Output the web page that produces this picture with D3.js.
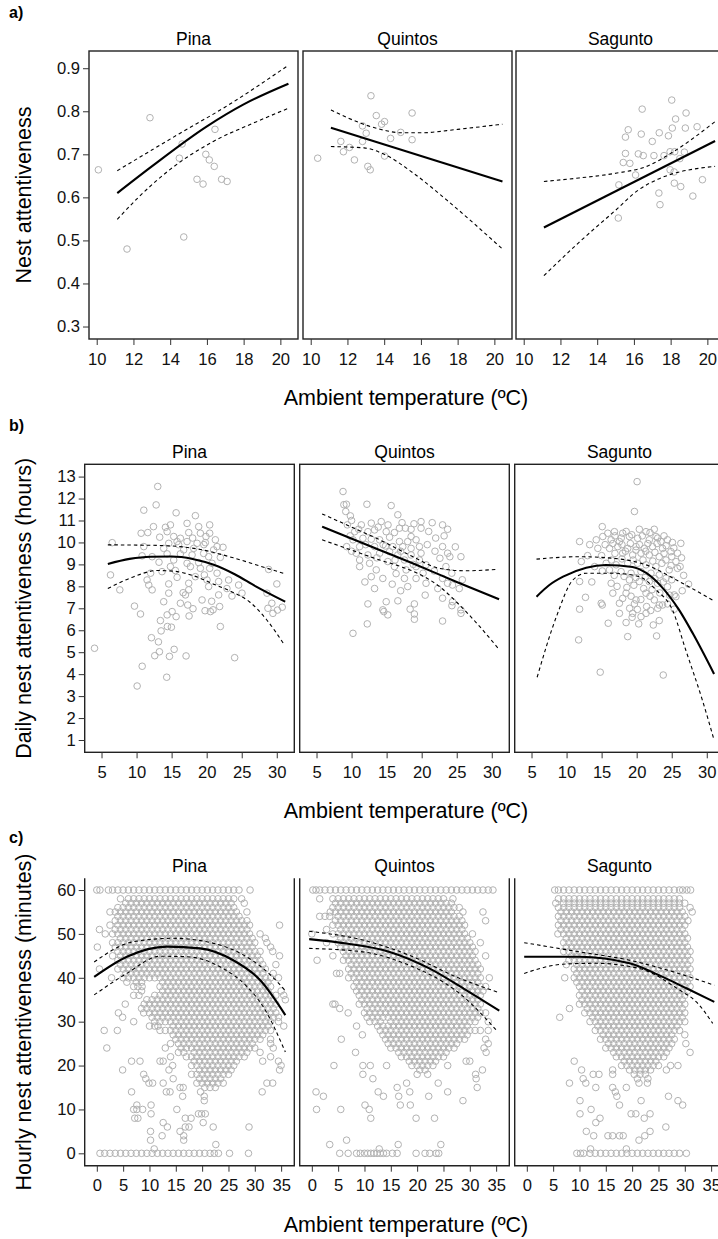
<!DOCTYPE html>
<html>
<head>
<meta charset="utf-8">
<script src="https://cdn.jsdelivr.net/npm/d3@7"></script>
<style>
  body { margin: 0; background: #fff; }
  svg { font-family: "Liberation Sans", Arial, Helvetica, sans-serif; }
</style>
</head>
<body>
<svg id="chart" width="718" height="1239"></svg>
<script>
const sites = ["Pina", "Quintos", "Sagunto"];

// ---- panel a: nest attentiveness vs ambient temperature, [temp, value]
const aPina = [[10.09,0.664],[12.9,0.785],[14.65,0.724],[14.5,0.691],[15.94,0.70],[16.13,0.687],[16.4,0.672],
  [16.44,0.758],[15.46,0.642],[15.79,0.631],[16.8,0.642],[17.1,0.637],[11.65,0.48],[14.74,0.508]];
const aQuintos = [[10.38,0.691],[13.28,0.836],[13.57,0.79],[14.02,0.776],[13.86,0.77],[12.82,0.766],[13.02,0.749],
  [12.82,0.73],[11.64,0.73],[12.11,0.716],[11.78,0.706],[12.38,0.687],[13.11,0.672],[13.24,0.664],[14.02,0.696],
  [14.35,0.737],[14.9,0.751],[15.52,0.796],[15.52,0.734]];
const aSagunto = [[18.06,0.826],[16.45,0.805],[18.84,0.796],[18.27,0.782],[15.69,0.757],[15.54,0.74],[16.4,0.747],
  [17.38,0.75],[18.09,0.761],[18.8,0.761],[19.44,0.764],[17.88,0.743],[17.0,0.73],[15.54,0.702],[16.24,0.701],
  [16.51,0.697],[17.09,0.697],[17.64,0.697],[17.97,0.706],[18.22,0.706],[18.75,0.705],[18.5,0.69],[15.42,0.681],
  [15.78,0.679],[16.09,0.652],[17.97,0.664],[18.19,0.659],[15.18,0.629],[18.2,0.633],[18.55,0.625],[19.73,0.641],
  [17.36,0.61],[19.21,0.603],[17.42,0.583],[15.15,0.552]];
const aPinaFit = [[11.12,0.61],[13,0.672],[16,0.765],[18,0.816],[20.44,0.864]];
const aPinaUpper = [[11.12,0.662],[13,0.71],[14.5,0.748],[17,0.81],[20.44,0.907]];
const aPinaLower = [[11.12,0.549],[12.27,0.6],[14,0.665],[16.35,0.73],[18.5,0.772],[20.44,0.807]];
const aQuintosFit = [[11.1,0.762],[20.44,0.637]];
const aQuintosUpper = [[11.1,0.803],[12,0.785],[13,0.768],[14,0.756],[14.9,0.75],[16,0.75],[18,0.758],[20.44,0.77]];
const aQuintosLower = [[11.1,0.718],[12.9,0.715],[14,0.70],[15.6,0.656],[17.4,0.594],[20.44,0.48]];
const aSaguntoFit = [[11.1,0.53],[20.42,0.731]];
const aSaguntoUpper = [[11.1,0.637],[13,0.645],[15,0.656],[16.7,0.672],[18.15,0.706],[20.42,0.776]];
const aSaguntoLower = [[11.1,0.418],[13,0.495],[15,0.57],[16.24,0.617],[17.3,0.642],[18.2,0.656],[19.3,0.666],[20.42,0.672]];

// ---- panel b: daily nest attentiveness (hours), [temp, hours]
const bPina = [[13.02,12.55],[12.79,11.71],[11.03,11.47],[15.64,11.35],[18.39,11.22],[12.41,10.72],[14.12,10.69],
  [14.83,10.8],[17.2,10.87],[18.86,10.72],[20.43,10.8],[10.65,10.42],[11.6,10.45],[13.3,10.24],[14.36,10.49],
  [15.3,10.27],[16.25,10.19],[17.44,10.45],[19.1,10.42],[19.9,10.27],[20.43,10.42],[21.24,10.12],[6.52,9.99],
  [14.59,9.96],[15.78,10.04],[17.2,10.04],[18.63,9.96],[19.81,9.99],[21.48,9.81],[22.33,9.78],[11.03,9.81],
  [13.87,9.73],[16.72,9.66],[18.15,9.73],[20.99,9.66],[10.79,9.39],[12.22,9.35],[14.36,9.48],[16.25,9.48],
  [17.92,9.43],[19.57,9.5],[20.28,9.35],[21.95,9.32],[15.3,9.2],[17.2,9.05],[18.86,9.08],[20.76,9.05],[14.83,8.9],
  [17.68,8.9],[19.1,8.82],[20.43,8.82],[13.63,8.67],[15.54,8.72],[19.67,8.52],[21.48,8.6],[6.28,8.52],[11.5,8.29],
  [11.74,8.06],[12.22,7.84],[14.59,8.11],[15.78,8.41],[17.44,8.14],[18.39,8.44],[20.05,8.29],[21.71,8.22],
  [23.13,8.29],[24.56,8.06],[7.61,7.84],[17.44,7.84],[20.28,7.99],[22.89,7.9],[14.59,7.69],[16.64,7.71],
  [16.97,7.61],[21.71,7.61],[23.61,7.56],[25.04,7.69],[19.34,7.38],[20.71,7.32],[30.01,8.11],[28.84,8.77],
  [28.6,7.69],[29.3,7.23],[4.0,5.18],[9.7,7.1],[10.56,6.74],[13.4,6.44],[14.36,6.7],[15.07,6.85],[15.64,6.62],
  [16.25,7.23],[17.3,7.15],[17.49,6.65],[18.05,6.98],[19.77,6.89],[20.53,6.85],[20.91,6.93],[21.85,7.08],
  [21.95,6.17],[13.87,7.3],[12.12,5.66],[13.12,5.47],[13.5,5.97],[14.4,6.17],[14.97,6.14],[13.26,5.02],
  [12.59,4.84],[14.69,4.81],[15.36,5.13],[17.06,4.83],[23.99,4.75],[10.8,4.36],[14.3,3.86],[10.08,3.46],
  [28.74,7.0],[29.45,6.77],[30.1,6.92],[30.78,7.05],[16.0,9.9],[18.0,10.2],[13.2,9.1],[12.0,8.6],[19.6,9.9]];
const bQuintos = [[8.78,12.32],[9.26,11.74],[8.9,11.72],[12.19,11.74],[15.65,11.68],[9.17,11.41],[9.83,11.21],
  [16.6,11.26],[9.4,10.8],[11.39,10.8],[12.81,10.88],[14.23,10.95],[16.83,10.65],[17.68,10.65],[18.49,10.6],
  [19.91,10.95],[19.91,10.65],[22.98,10.8],[23.7,10.6],[10.44,10.49],[12.33,10.49],[13.28,10.57],[14.94,10.49],
  [16.11,10.45],[18.49,10.27],[10.2,10.12],[11.62,10.19],[12.81,10.15],[14.0,10.12],[15.42,10.24],[16.83,10.04],
  [18.01,10.04],[19.2,10.12],[9.3,9.81],[11.15,9.81],[13.28,9.81],[14.84,9.84],[15.88,9.81],[17.3,9.81],
  [18.49,9.73],[19.68,9.81],[22.98,9.81],[23.7,9.51],[25.6,9.35],[10.68,9.51],[12.33,9.43],[14.0,9.51],
  [15.42,9.58],[16.6,9.43],[18.49,9.43],[19.91,9.51],[22.6,9.28],[24.02,9.35],[11.15,9.2],[12.57,9.05],
  [15.17,9.13],[17.54,9.2],[19.68,9.2],[13.52,8.75],[16.11,8.9],[17.78,8.75],[19.2,8.9],[20.62,8.98],[23.46,8.9],
  [11.15,8.9],[12.81,8.44],[14.46,8.36],[16.35,8.58],[17.54,8.36],[18.01,7.99],[19.2,8.36],[20.62,8.14],
  [22.98,8.36],[23.7,8.14],[24.4,8.06],[25.36,7.9],[13.28,7.9],[14.94,7.3],[16.6,7.34],[18.96,7.2],[22.98,7.46],
  [24.4,7.3],[25.6,6.93],[12.33,7.2],[14.46,6.93],[14.6,6.85],[15.17,6.7],[18.35,6.96],[18.96,6.74],[18.96,6.5],
  [12.24,6.29],[22.98,6.42],[24.31,7.12],[25.6,6.77],[10.2,5.86],
  [10.0,11.0],[11.0,10.6],[13.8,10.7],[15.2,10.8],[17.2,10.9],[18.9,10.85],[21.0,10.5],[22.0,10.2],[20.8,9.9],
  [21.9,9.6],[17.0,9.6],[13.6,9.3],[10.0,9.6],[9.8,10.3],[12.0,9.9],[14.5,9.9],[16.2,9.2],[18.8,9.0],[20.2,8.6],
  [21.8,8.7],[24.3,8.6],[22.3,7.9],[25.8,8.3],[20.5,7.6],[17.0,7.8],[15.8,8.1],[11.9,8.2],[21.5,10.9],[23.2,10.3],
  [24.8,9.8]];
const bSagunto = [[20.06,12.77],[19.68,11.41],[15.09,10.72],[11.86,10.04],[14.23,10.12],[15.88,10.42],[16.83,10.49],
  [18.01,10.42],[20.38,10.6],[21.33,10.49],[22.51,10.6],[23.46,10.04],[24.4,10.12],[26.3,9.96],[15.17,10.27],
  [16.36,10.12],[17.54,10.04],[18.96,10.27],[20.14,10.19],[21.8,10.12],[22.76,10.27],[14.46,9.73],[16.12,9.73],
  [17.3,9.81],[18.72,9.73],[19.91,9.81],[21.09,9.73],[22.27,9.81],[23.69,9.73],[24.89,9.58],[25.83,9.51],
  [18.01,9.51],[19.43,9.43],[20.62,9.51],[21.8,9.43],[23.22,9.35],[24.18,9.2],[25.6,9.13],[12.1,9.13],
  [15.65,9.05],[17.07,8.98],[18.72,9.05],[20.14,9.05],[21.33,8.98],[22.75,8.9],[24.64,8.75],[25.83,8.82],
  [16.12,8.75],[17.78,8.67],[19.2,8.6],[20.62,8.67],[22.04,8.6],[23.22,8.52],[24.18,8.37],[16.36,8.14],
  [18.96,8.29],[20.38,8.22],[21.8,8.22],[22.99,8.14],[24.4,7.98],[25.36,7.61],[11.86,8.22],[16.6,7.69],
  [14.94,7.23],[17.54,7.23],[18.49,7.69],[19.91,7.38],[21.33,7.69],[22.51,7.38],[23.69,7.15],[25.6,7.53],
  [11.86,6.96],[17.54,6.77],[19.43,6.77],[20.62,6.62],[21.33,6.77],[15.09,7.15],[15.94,6.32],[18.49,6.35],
  [19.35,6.59],[20.29,6.29],[21.42,7.08],[19.68,7.2],[22.37,6.24],[23.22,6.44],[23.22,7.15],[18.72,5.71],
  [22.84,5.74],[25.36,6.96],[11.72,5.56],[14.8,4.09],[23.79,3.96],
  [16.9,10.3],[17.8,10.2],[18.5,10.5],[19.3,10.35],[20.8,10.3],[21.9,10.45],[23.0,10.2],[23.9,10.3],[25.1,10.0],
  [15.5,9.9],[16.6,9.95],[17.9,9.9],[19.1,9.95],[20.4,9.9],[21.6,9.95],[22.9,9.95],[24.2,9.85],[25.3,9.75],
  [15.0,9.4],[16.9,9.5],[18.4,9.6],[19.9,9.65],[21.3,9.6],[22.6,9.55],[23.9,9.5],[25.0,9.35],[26.4,9.3],
  [16.4,9.2],[17.9,9.25],[19.5,9.2],[20.9,9.2],[22.3,9.15],[23.6,9.05],[24.9,8.95],[26.2,8.9],
  [15.1,8.7],[16.8,8.5],[18.2,8.45],[19.9,8.4],[21.2,8.4],[22.6,8.35],[23.8,8.2],[25.0,8.3],[26.7,8.5],[27.4,8.1],
  [17.2,8.0],[18.6,7.95],[19.6,8.05],[21.0,7.9],[22.2,7.85],[23.3,7.7],[24.7,7.6],[26.5,7.8],
  [18.0,7.45],[19.2,7.55],[20.6,7.4],[21.9,7.55],[23.0,7.0],[24.4,7.2],[19.0,7.0],[20.1,6.95],[22.0,6.9],
  [13.3,9.9],[13.0,9.4],[14.0,8.9],[13.6,8.2],[12.7,7.5]];
const bPinaFit = [[5.9,9.02],[9,9.25],[12,9.35],[15,9.36],[18,9.25],[21,8.98],[24,8.55],[27,8.0],[31.2,7.3]];
const bPinaUpper = [[5.9,9.89],[10,9.88],[14.4,9.85],[19.1,9.68],[23.8,9.3],[27.65,8.92],[31,8.59]];
const bPinaLower = [[5.9,7.9],[9.6,8.44],[12.9,8.72],[15.3,8.69],[18.15,8.48],[21,8.1],[23.8,7.72],[26.1,7.3],[28.5,6.5],[31.03,5.36]];
const bQuintosFit = [[5.8,10.72],[14,9.66],[18.7,9.05],[25,8.2],[31.04,7.41]];
const bQuintosUpper = [[5.8,11.3],[10,10.7],[14,10.12],[18.7,9.36],[22.5,8.82],[26.3,8.71],[30.6,8.77]];
const bQuintosLower = [[5.8,10.12],[10,9.65],[14,9.2],[17,8.9],[19.7,8.55],[22.5,8.0],[25.4,7.15],[28.3,6.16],[31.04,5.13]];
const bSaguntoFit = [[5.71,7.53],[7.5,8.05],[9.5,8.44],[12.8,8.85],[15.6,8.97],[19.4,8.88],[21.3,8.62],[23.5,8.0],[26,6.95],[28,5.86],[31.04,4.01]];
const bSaguntoUpper = [[5.71,9.24],[11.86,9.35],[16.6,9.28],[21.33,8.98],[26.07,8.22],[30.8,7.38]];
const bSaguntoLower = [[5.8,3.86],[8.55,6.62],[10.9,8.29],[12.81,8.6],[16.6,8.6],[20.38,8.44],[22.75,7.84],[25.1,6.93],[27,5.1],[29.37,2.82],[31.04,1.0]];

// ---- panel c: hourly nest attentiveness (minutes); rows of [minutes, "temperatures"]
const cPinaRows = [
  [60,"0 0.6 2.2 3 4 5 6 7 8 9 10 11 12 13 14 15 16 17 18 19 20 21 22 23 24 25 26 27 29.1"],
  [58,"4.5 6 7 8 9 10 11 12 13 14 15 16 17 18 19 20 21 22 23 24 25 26 27.5"],
  [57,"5.5 6.5 7.5 8.5 9.5 10.5 11.5 12.5 13.5 14.5 15.5 16.5 17.5 18.5 19.5 20.5 21.5 22.5 23.5 24.5 25.5 28"],
  [56,"4 5 6 7 8 9 10 11 12 13 14 15 16 17 18 19 20 21 22 23 24 25 26"],
  [55,"2.5 3.5 4.5 5.5 6.5 7.5 8.5 9.5 10.5 11.5 12.5 13.5 14.5 15.5 16.5 17.5 18.5 19.5 20.5 21.5 22.5 23.5 24.5 25.5 26.5 28.5"],
  [54,"4 5 6 7 8 9 10 11 12 13 14 15 16 17 18 19 20 21 22 23 24 25 26 27"],
  [53,"3.5 4.5 5.5 6.5 7.5 8.5 9.5 10.5 11.5 12.5 13.5 14.5 15.5 16.5 17.5 18.5 19.5 20.5 21.5 22.5 23.5 24.5 25.5 26.5 27.5 28.5"],
  [52,"2.5 4 5 6 7 8 9 10 11 12 13 14 15 16 17 18 19 20 21 22 23 24 25 26 27 28 29 34.7"],
  [51,"0.5 3.5 4.5 5.5 6.5 7.5 8.5 9.5 10.5 11.5 12.5 13.5 14.5 15.5 16.5 17.5 18.5 19.5 20.5 21.5 22.5 23.5 24.5 25.5 26.5 27.5 28.5"],
  [50,"1.6 3 4 5 6 7 8 9 10 11 12 13 14 15 16 17 18 19 20 21 22 23 24 25 26 27 28 29 31"],
  [49,"4.5 5.5 6.5 7.5 8.5 9.5 10.5 11.5 12.5 13.5 14.5 15.5 16.5 17.5 18.5 19.5 20.5 21.5 22.5 23.5 24.5 25.5 26.5 27.5 28.5 29.5 32"],
  [48,"3 4 5 6 7 8 9 10 11 12 13 14 15 16 17 18 19 20 21 22 23 24 25 26 27 28 29 30 32.3"],
  [47,"0.1 3.5 4.5 5.5 6.5 7.5 8.5 9.5 10.5 11.5 12.5 13.5 14.5 15.5 16.5 17.5 18.5 19.5 20.5 21.5 22.5 23.5 24.5 25.5 26.5 27.5 28.5 29.5 33"],
  [46,"4 5 6 7 8 9 10 11 12 13 14 15 16 17 18 19 20 21 22 23 24 25 26 27 28 29 30 31 33.4"],
  [45,"3 4.5 5.5 6.5 7.5 8.5 9.5 10.5 11.5 12.5 13.5 14.5 15.5 16.5 17.5 18.5 19.5 20.5 21.5 22.5 23.5 24.5 25.5 26.5 27.5 28.5 29.5 30.5 34.7"],
  [44,"4 5 6 7 8 9 10 11 12 13 14 15 16 17 18 19 20 21 22 23 24 25 26 27 28 29 30 31"],
  [43,"4.5 5.5 6.5 7.5 8.5 9.5 10.5 11.5 12.5 13.5 14.5 15.5 16.5 17.5 18.5 19.5 20.5 21.5 22.5 23.5 24.5 25.5 26.5 27.5 28.5 29.5 30.5 31.5 34"],
  [42,"0.5 4 5 6 7 8 9 10 11 12 13 14 15 16 17 18 19 20 21 22 23 24 25 26 27 28 29 30 31 32"],
  [41,"5.5 6.5 7.5 8.5 9.5 10.5 11.5 12.5 13.5 14.5 15.5 16.5 17.5 18.5 19.5 20.5 21.5 22.5 23.5 24.5 25.5 26.5 27.5 28.5 29.5 30.5 31.5 33.5"],
  [40,"2.8 5 6 7 8 9 10 11 12 13 14 15 16 17 18 19 20 21 22 23 24 25 26 27 28 29 30 31 32 33 34.5"],
  [39,"5.7 7.5 8.5 12.5 13.5 14.5 15.5 16.5 17.5 18.5 19.5 20.5 21.5 22.5 23.5 24.5 25.5 26.5 27.5 28.5 29.5 30.5 31.5 32.5"],
  [38,"7 7.8 8.6 12 13 14 15 16 17 18 19 20 21 22 23 24 25 26 27 28 29 30 31 32 33"],
  [37,"8.5 12.5 13.5 14.5 15.5 16.5 17.5 18.5 19.5 20.5 21.5 22.5 23.5 24.5 25.5 26.5 27.5 28.5 29.5 30.5 31.5 32.5 35"],
  [36,"7 8 11 12 13 14 15 16 17 18 19 20 21 22 23 24 25 26 27 28 29 30 31 32 33 34 35.5"],
  [35,"9.5 10.5 11.5 12.5 13.5 14.5 15.5 16.5 17.5 18.5 19.5 20.5 21.5 22.5 23.5 24.5 25.5 26.5 27.5 28.5 29.5 30.5 31.5 32.5 33.5 35.8"],
  [34,"5.4 9 10 11 12 13 14 15 16 17 18 19 20 21 22 23 24 25 26 27 28 29 30 31 32 33 34"],
  [33,"8.5 9.5 10.5 11.5 12.5 13.5 14.5 15.5 16.5 17.5 18.5 19.5 20.5 21.5 22.5 23.5 24.5 25.5 26.5 27.5 28.5 29.5 30.5 31.5 32.5 33.5"],
  [32,"4.1 8.9 10 11 12 13 14 15 16 17 18 19 20 21 22 23 24 25 26 27 28 29 30 31 32 33 34"],
  [31,"4.9 10.5 11.5 12.5 13.5 14.5 15.5 16.5 17.5 18.5 19.5 20.5 21.5 22.5 23.5 24.5 25.5 26.5 27.5 28.5 29.5 30.5 31.5 32.5 33.5 34.5"],
  [30,"7 11 12 13 14 15 16 17 18 19 20 21 22 23 24 25 26 27 28 29 30 31 32 33 34.5"],
  [29,"10 11 11.6 14.5 15.5 16.5 17.5 18.5 19.5 20.5 21.5 22.5 23.5 24.5 25.5 26.5 27.5 28.5 29.5 30.5 31.5 32.5 35.5"],
  [28,"1.4 3.9 12 13 14 15 16 17 18 19 20 21 22 23 24 25 26 27 28 29 30 31 32 33"],
  [27,"14.5 15.5 16.5 17.5 18.5 19.5 20.5 21.5 22.5 23.5 24.5 25.5 26.5 27.5 28.5 29.5 30.5 31.5"],
  [26,"15 16 17 18 19 20 21 22 23 24 25 26 27 28 29 30 31 33"],
  [25,"14 15.5 16.5 17.5 18.5 19.5 20.5 21.5 22.5 23.5 24.5 25.5 26.5 27.5 28.5 29.5 33"],
  [24,"1.9 13 16 17 18 19 20 21 22 23 24 25 26 27 28 29 30 33.5"],
  [23,"15.5 16.5 18.5 19.5 20.5 21.5 22.5 23.5 24.5 25.5 26.5 27.5 28.5 31"],
  [22,"14 17 18 19 20 21 22 23 24 25 26 27 28 33"],
  [21,"6.6 8.2 12 12.6 18.5 19.5 20.5 21.5 22.5 23.5 24.5 25.5 26.5 31.5 34.5"],
  [20,"14.4 18 19 20 21 22 23 24 25 26 35"],
  [19,"4.9 13.7 19.5 20.5 21.5 22.5 23.5 24.5 25.5 34.7"],
  [18,"8.9 18 19 20 21 22 23 24 25"],
  [17,"9.3 14.5 19.5 20.5 21.5 22.5 23.5"],
  [16,"9.9 10.6 12.6 19 20 21 22 23 24 32.3 33.4"],
  [15,"15.8 16.4 20.5 21.5 22.5"],
  [14,"6.6 13.2 13.9 19.7 31.4"],
  [13,"16.3 20.4"],
  [12,"20.4"],
  [11,"7.6 10.3"],
  [10,"7 7.6 8.7 15.2"],
  [9,"10.3 19.3 19.9 20.6"],
  [8,"7.2 7.8 16.8 17.9"],
  [7,"12.6 20.2"],
  [6,"13.4 16.8 17.5 22.1 28.9"],
  [5,"10.2 15.8"],
  [4,"12.4 16.5"],
  [3,"10.2 16.5"],
  [2,"22.6"],
  [1,"10.9"],
  [0,"0.6 1.5 2.5 3.5 4.5 5.5 6.5 7.5 8.5 9.5 10.5 11.5 12.5 13.5 14.5 15.5 16.5 17.5 18.5 19.5 20.5 21.5 22.3 23.1 25.2 28.8"]
];
const cQuintosRows = [
  [60,"0.2 0.8 1.5 2.5 3.5 4.5 5.5 6.5 7.5 8.5 9.5 10.5 11.5 12.5 13.5 14.5 15.5 16.5 17.5 18.5 19.5 20.5 21.5 22.5 23.5 24.5 25.5 26.5 27.5 28.5 29.5 30.5 31.5 32.5 33.5 34.4"],
  [58,"1.5 4 5 6 7 8 9 10 11 12 13 14 15 16 17 18 19 20 21 22 23 24 25 26.8"],
  [57,"4.5 5.5 6.5 7.5 8.5 9.5 10.5 11.5 12.5 13.5 14.5 15.5 16.5 17.5 18.5 19.5 20.5 21.5 22.5 23.5 24.5 25.5 26.5"],
  [56,"4 5 6 7 8 9 10 11 12 13 14 15 16 17 18 19 20 21 22 23 24 25 26 27 28"],
  [55,"3.5 4.5 5.5 6.5 7.5 8.5 9.5 10.5 11.5 12.5 13.5 14.5 15.5 16.5 17.5 18.5 19.5 20.5 21.5 22.5 23.5 24.5 25.5 26.5 28.7 32.5"],
  [54,"1.5 2.5 3.4 5 6 7 8 9 10 11 12 13 14 15 16 17 18 19 20 21 22 23 24 25 26 27 28"],
  [53,"4.5 5.5 6.5 7.5 8.5 9.5 10.5 11.5 12.5 13.5 14.5 15.5 16.5 17.5 18.5 19.5 20.5 21.5 22.5 23.5 24.5 25.5 26.5 27.5 28.5 33"],
  [52,"4 5 6 7 8 9 10 11 12 13 14 15 16 17 18 19 20 21 22 23 24 25 26 27 28 29"],
  [51,"2.8 5.5 6.5 7.5 8.5 9.5 10.5 11.5 12.5 13.5 14.5 15.5 16.5 17.5 18.5 19.5 20.5 21.5 22.5 23.5 24.5 25.5 26.5 27.5 28.5"],
  [50,"0 4 5 6 7 8 9 10 11 12 13 14 15 16 17 18 19 20 21 22 23 24 25 26 27 28 29 30.5"],
  [49,"5.5 6.5 7.5 8.5 9.5 10.5 11.5 12.5 13.5 14.5 15.5 16.5 17.5 18.5 19.5 20.5 21.5 22.5 23.5 24.5 25.5 26.5 27.5 28.5 29.5"],
  [48,"2.8 5 6 7 8 9 10 11 12 13 14 15 16 17 18 19 20 21 22 23 24 25 26 27 28 29 30 32"],
  [47,"5.5 6.5 7.5 8.5 9.5 10.5 11.5 12.5 13.5 14.5 15.5 16.5 17.5 18.5 19.5 20.5 21.5 22.5 23.5 24.5 25.5 26.5 27.5 28.5 29.5 30.5"],
  [46,"6 7 8 9 10 11 12 13 14 15 16 17 18 19 20 21 22 23 24 25 26 27 28 29 30 31"],
  [45,"4 6.5 7.5 8.5 9.5 10.5 11.5 12.5 13.5 14.5 15.5 16.5 17.5 18.5 19.5 20.5 21.5 22.5 23.5 24.5 25.5 26.5 27.5 28.5 29.5 30.5 33"],
  [44,"1 6 7 8 9 10 11 12 13 14 15 16 17 18 19 20 21 22 23 24 25 26 27 28 29 30 31"],
  [43,"7.5 8.5 9.5 10.5 11.5 12.5 13.5 14.5 15.5 16.5 17.5 18.5 19.5 20.5 21.5 22.5 23.5 24.5 25.5 26.5 27.5 28.5 29.5 30.5 31.5"],
  [42,"7 8 9 10 11 12 13 14 15 16 17 18 19 20 21 22 23 24 25 26 27 28 29 30 31 32"],
  [41,"4.7 5.3 7.5 8.5 9.5 10.5 11.5 12.5 13.5 14.5 15.5 16.5 17.5 18.5 19.5 20.5 21.5 22.5 23.5 24.5 25.5 26.5 27.5 28.5 29.5 30.5 31.5"],
  [40,"7 8 9 10 11 12 13 14 15 16 17 18 19 20 21 22 23 24 25 26 27 28 29 30 31 32 33.7"],
  [39,"8.5 9.5 10.5 11.5 12.5 13.5 14.5 15.5 16.5 17.5 18.5 19.5 20.5 21.5 22.5 23.5 24.5 25.5 26.5 27.5 28.5 29.5 30.5 31.5"],
  [38,"8 9 10 11 12 13 14 15 16 17 18 19 20 21 22 23 24 25 26 27 28 29 30 31 32 33"],
  [37,"8.5 9.5 10.5 11.5 12.5 13.5 14.5 15.5 16.5 17.5 18.5 19.5 20.5 21.5 22.5 23.5 24.5 25.5 26.5 27.5 28.5 29.5 30.5 31.5 32.5"],
  [36,"9 10 11 12 13 14 15 16 17 18 19 20 21 22 23 24 25 26 27 28 29 30 31 32"],
  [35,"9.5 10.5 11.5 12.5 13.5 14.5 15.5 16.5 17.5 18.5 19.5 20.5 21.5 22.5 23.5 24.5 25.5 26.5 27.5 28.5 29.5 30.5 31.5"],
  [34,"4 4.4 9 10 11 12 13 14 15 16 17 18 19 20 21 22 23 24 25 26 27 28 29 30 31 32"],
  [33,"5.3 10.5 11.5 12.5 13.5 14.5 15.5 16.5 17.5 18.5 19.5 20.5 21.5 22.5 23.5 24.5 25.5 26.5 27.5 28.5 29.5 30.5 31.5"],
  [32,"6.9 10 11 12 13 14 15 16 17 18 19 20 21 22 23 24 25 26 27 28 29 30 31 32 33"],
  [31,"10.5 11.5 12.5 13.5 14.5 15.5 16.5 17.5 18.5 19.5 20.5 21.5 22.5 23.5 24.5 25.5 26.5 27.5 28.5 29.5 30.5 31.5"],
  [30,"11 12 13 15 16 17 18 19 20 21 22 23 24 25 26 27 28 29 30 31 33.5"],
  [29,"8.5 12.5 13.5 14.5 15.5 16.5 17.5 18.5 19.5 20.5 21.5 22.5 23.5 24.5 25.5 26.5 27.5 28.5 29.5"],
  [28,"13 14 15 16 17 18 19 20 21 22 23 24 25 26 27 28 29 30 31 32 33.5"],
  [27,"9.6 13.5 14.5 15.5 16.5 17.5 18.5 19.5 20.5 21.5 22.5 23.5 24.5 25.5 26.5 27.5 28.5 29.5"],
  [26,"5.6 14 15 16 17 18 19 20 21 22 23 24 25 26 27 28 29 33"],
  [25,"14.5 15.5 16.5 17.5 18.5 19.5 20.5 21.5 22.5 23.5 24.5 25.5 26.5 27.5 33.5"],
  [24,"15 16 17 18 19 20 21 22 23 24 25 26 27 32.7"],
  [23,"8.3 16.5 17.5 18.5 19.5 20.5 21.5 22.5 23.5 24.5 25.5 33.1"],
  [22,"17 18 19 20 21 22 23 24 25"],
  [21,"18.5 19.5 20.5 21.5 22.5 23.5 29.3 30"],
  [20,"4.2 9.7 11.1 14.2 19 20 21 22 23 25.8"],
  [19,"20.5 21.5 32.4"],
  [18,"9.7 20 22 31.1"],
  [17,"11.6 31.2"],
  [16,"18 24"],
  [15,"16.2 31.4"],
  [14,"0.8 12.6 18.6 25.8"],
  [13,"2.2 13.6 16.5 22.2"],
  [12,"28.7"],
  [11,"10.1 16.8 18.7"],
  [10,"0.9 5.5 10.9"],
  [8,"11.2 19.8 23.3"],
  [3,"6.6"],
  [2,"3.4 16.4 24.5"],
  [1,"12.8"],
  [0,"5.3 6.9 8.5 9.2 10 10.6 11.2 11.8 12.4 13 13.6 14.2 15.3 16.2 19.8 21.5 22.4 23.6 24.1"]
];
const cSaguntoRows = [
  [60,"5.3 6 7 8 9 10 11 12 13 14 15 16 17 18 19 20 21 22 23 24 25 26 27 28 29 29.6 30.4 31.1"],
  [58,"6 7 8 9 10 11 12 13 14 15 16 17 18 19 20 21 22 23 24 25 26 27 28 29"],
  [57,"5.5 7 8 9 10 11 12 13 14 15 16 17 18 19 20 21 22 23 24 25 26 27 28 29 30"],
  [56,"6 7 8 9 10 11 12 13 14 15 16 17 18 19 20 21 22 23 24 25 26 27 28 29 31"],
  [55,"6.5 7.5 8.5 9.5 10.5 11.5 12.5 13.5 14.5 15.5 16.5 17.5 18.5 19.5 20.5 21.5 22.5 23.5 24.5 25.5 26.5 27.5 28.5 29.5 31.4"],
  [54,"6 7 8 9 10 11 12 13 14 15 16 17 18 19 20 21 22 23 24 25 26 27 28 29 30"],
  [53,"6.5 7.5 8.5 9.5 10.5 11.5 12.5 13.5 14.5 15.5 16.5 17.5 18.5 19.5 20.5 21.5 22.5 23.5 24.5 25.5 26.5 27.5 28.5 29.5 30.6"],
  [52,"6 7 8 9 10 11 12 13 14 15 16 17 18 19 20 21 22 23 24 25 26 27 28 29 30"],
  [51,"6.5 7.5 8.5 9.5 10.5 11.5 12.5 13.5 14.5 15.5 16.5 17.5 18.5 19.5 20.5 21.5 22.5 23.5 24.5 25.5 26.5 27.5 28.5 29.5"],
  [50,"5.9 7 8 9 10 11 12 13 14 15 16 17 18 19 20 21 22 23 24 25 26 27 28 29 30"],
  [49,"7.5 8.5 9.5 10.5 11.5 12.5 13.5 14.5 15.5 16.5 17.5 18.5 19.5 20.5 21.5 22.5 23.5 24.5 25.5 26.5 27.5 28.5 29.5 30.5"],
  [48,"7 8 9 10 11 12 13 14 15 16 17 18 19 20 21 22 23 24 25 26 27 28 29 30"],
  [47,"7.5 8.5 9.5 10.5 11.5 12.5 13.5 14.5 15.5 16.5 17.5 18.5 19.5 20.5 21.5 22.5 23.5 24.5 25.5 26.5 27.5 28.5 29.5 30.5"],
  [46,"7 8 9 10 11 12 13 14 15 16 17 18 19 20 21 22 23 24 25 26 27 28 29 30 31"],
  [45,"8.5 9.5 10.5 11.5 12.5 13.5 14.5 15.5 16.5 17.5 18.5 19.5 20.5 21.5 22.5 23.5 24.5 25.5 26.5 27.5 28.5 29.5 30.5"],
  [44,"8 9 10 11 12 13 14 15 16 17 18 19 20 21 22 23 24 25 26 27 28 29 30 31"],
  [43,"7.5 9.5 10.5 11.5 12.5 13.5 14.5 15.5 16.5 17.5 18.5 19.5 20.5 21.5 22.5 23.5 24.5 25.5 26.5 27.5 28.5 29.5 30.5"],
  [42,"9 10 11 12 13 14 15 16 17 18 19 20 21 22 23 24 25 26 27 28 29 30 31"],
  [41,"9.5 10.5 11.5 12.5 13.5 14.5 15.5 16.5 17.5 18.5 19.5 20.5 21.5 22.5 23.5 24.5 25.5 26.5 27.5 28.5 29.5 30.5"],
  [40,"7.2 9 10 11 12 13 14 15 16 17 18 19 20 21 22 23 24 25 26 27 28 29 30 31"],
  [39,"9.5 10.5 11.5 12.5 13.5 14.5 15.5 16.5 17.5 18.5 19.5 20.5 21.5 22.5 23.5 24.5 25.5 26.5 27.5 28.5 29.5 30.5"],
  [38,"10 11 12 13 14 15 16 17 18 19 20 21 22 23 24 25 26 27 28 29 30 31"],
  [37,"10.5 11.5 12.5 13.5 14.5 15.5 16.5 17.5 18.5 19.5 20.5 21.5 22.5 23.5 24.5 25.5 26.5 27.5 28.5 29.5 30.5"],
  [36,"10 11 12 13 14 15 16 17 18 19 20 21 22 23 24 25 26 27 28 29 30"],
  [35,"10.5 11.5 12.5 13.5 14.5 15.5 16.5 17.5 18.5 19.5 20.5 21.5 22.5 23.5 24.5 25.5 26.5 27.5 28.5 29.5"],
  [34,"10 11 12 13 14 15 16 17 18 19 20 21 22 23 24 25 26 27 28 29 30"],
  [33,"8.1 11.5 12.5 13.5 14.5 15.5 16.5 17.5 18.5 19.5 20.5 21.5 22.5 23.5 24.5 25.5 26.5 27.5 28.5 29.5"],
  [32,"11 12 13 14 15 16 17 18 19 20 21 22 23 24 25 26 27 28 29 30"],
  [31,"6.25 12.5 13.5 14.5 15.5 16.5 17.5 18.5 19.5 20.5 21.5 22.5 23.5 24.5 25.5 26.5 27.5 28.5 29.5"],
  [30,"12 13 14 15 16 17 18 19 20 21 22 23 24 25 26 27 28 29 30"],
  [29,"13.5 14.5 15.5 16.5 17.5 18.5 19.5 20.5 21.5 22.5 23.5 24.5 25.5 26.5 27.5 28.5"],
  [28,"13 14 15 16 17 18 19 20 21 22 23 24 25 26 27 28 29"],
  [27,"14.5 15.5 16.5 17.5 18.5 19.5 20.5 21.5 22.5 23.5 24.5 25.5 26.5 27.5 30"],
  [26,"14 15 16 17 18 19 20 21 22 23 24 25 26 27 28"],
  [25,"15.5 16.5 17.5 18.5 19.5 20.5 21.5 22.5 23.5 24.5 25.5 26.5 27.5 30.2"],
  [24,"15 16 17 18 19 20 21 22 23 24 25 26 27"],
  [23,"16.5 17.5 18.5 19.5 20.5 21.5 22.5 23.5 24.5 25.5 26.5 31"],
  [22,"17 18 19 20 21 22 23 24 25 26"],
  [21,"9 18.5 19.5 20.5 21.5 22.5 23.5 24.5"],
  [20,"18 19 20 21 22 23 24 25 27.3 28.7"],
  [19,"10.4 16.3 19.5 20.5 21.5 22.5 23.5 26.5"],
  [18,"12.6 13.7 16.3 20.4 21.5 22.5"],
  [17,"10.7 21 23"],
  [16,"8.1 11.2 21.3 22.9"],
  [15,"13.1 16.3 18.9"],
  [14,"16.8"],
  [13,"17.1 26.9"],
  [12,"10.1 21.7 28.7"],
  [11,"17.6 29.6"],
  [10,"12.2"],
  [9,"10.1 19.8 20.7 23.4"],
  [8,"13.9 22.3"],
  [7,"13.1"],
  [6,"26.4"],
  [5,"11.3 23.4"],
  [4,"12.7 15.4 16.3 17.6 18.3 22.4"],
  [3,"21.3"],
  [1,"12.1 18.9"],
  [0,"9.5 10.2 10.8 12 13 14 15 16 17 18 19 20 21 22 23 24 25 26 27 28 29 30.3"]
];
const cPinaFit = [[-0.5,40.2],[5.7,44.8],[13.3,47.1],[19.6,46.7],[25.9,44.0],[31,39.5],[35.8,31.5]];
const cPinaUpper = [[-0.5,43.6],[6.9,48.2],[14.5,49.0],[20.9,48.2],[27.2,45.6],[32.3,41.4],[36,36.8]];
const cPinaLower = [[-0.5,36.1],[5.7,41.0],[12,44.9],[17.1,44.8],[23.4,42.5],[28.5,38.0],[31.6,33.4],[35.8,23.1]];
const cQuintosFit = [[-0.5,48.8],[6.6,47.8],[14.8,45.9],[22.4,42.1],[29.3,37.2],[35.6,32.5]];
const cQuintosUpper = [[-0.5,50.6],[9.7,48.6],[19.2,44.8],[27.4,40.2],[35.6,36.6]];
const cQuintosLower = [[-0.5,46.7],[9.7,45.9],[19.2,42.5],[25,39],[29,35.5],[32,32],[35.3,27.7]];
const cSaguntoFit = [[-0.5,44.8],[10,44.8],[19.5,43.3],[25.8,40.2],[30.3,37.6],[35.6,34.5]];
const cSaguntoUpper = [[-0.5,48.0],[10,45.9],[19.5,44.0],[27.7,41.4],[35.6,38.3]];
const cSaguntoLower = [[-0.5,41.0],[6.9,43.1],[13.2,43.3],[21.4,42.1],[29,37.2],[32.2,34.5],[35.3,29.6]];

// ---- ticks
const aTicksX = [10, 12, 14, 16, 18, 20];
const aTicksY = [0.3, 0.4, 0.5, 0.6, 0.7, 0.8, 0.9];
const bTicksX = [5, 10, 15, 20, 25, 30];
const bTicksY = [1, 2, 3, 4, 5, 6, 7, 8, 9, 10, 11, 12, 13];
const cTicksX = [0, 5, 10, 15, 20, 25, 30, 35];
const cTicksY = [0, 10, 20, 30, 40, 50, 60];

const xTitle = "Ambient temperature (ºC)";

function expandRows(rows) {
  const pts = [];
  rows.forEach(([m, s]) => s.split(" ").forEach(t => pts.push([+t, m])));
  return pts;
}

const panels = [
  { letter: "a)", letterY: 18, top: 51, bottom: 339, lefts: [89, 303, 516], w: 209,
    xDom: [9.58, 20.96], yDom: [0.271, 0.94], xTicks: aTicksX, yTicks: aTicksY, yFmt: d3.format(".1f"),
    points: [aPina, aQuintos, aSagunto],
    fit: [aPinaFit, aQuintosFit, aSaguntoFit], upper: [aPinaUpper, aQuintosUpper, aSaguntoUpper],
    lower: [aPinaLower, aQuintosLower, aSaguntoLower],
    yTitle: "Nest attentiveness", xTitleY: 405, topBorder: true },
  { letter: "b)", letterY: 431, top: 464.3, bottom: 752.3, lefts: [84.7, 299.7, 514.7], w: 209.6,
    xDom: [2.6, 32.5], yDom: [0.44, 13.56], xTicks: bTicksX, yTicks: bTicksY, yFmt: d3.format("d"),
    points: [bPina, bQuintos, bSagunto],
    fit: [bPinaFit, bQuintosFit, bSaguntoFit], upper: [bPinaUpper, bQuintosUpper, bSaguntoUpper],
    lower: [bPinaLower, bQuintosLower, bSaguntoLower],
    yTitle: "Daily nest attentiveness (hours)", xTitleY: 818, topBorder: true },
  { letter: "c)", letterY: 843, top: 878.3, bottom: 1165.7, lefts: [84.7, 299.7, 514.7], w: 209.6,
    xDom: [-2.3, 37.5], yDom: [-2.82, 62.67], xTicks: cTicksX, yTicks: cTicksY, yFmt: d3.format("d"),
    points: [expandRows(cPinaRows), expandRows(cQuintosRows), expandRows(cSaguntoRows)],
    fit: [cPinaFit, cQuintosFit, cSaguntoFit], upper: [cPinaUpper, cQuintosUpper, cSaguntoUpper],
    lower: [cPinaLower, cQuintosLower, cSaguntoLower],
    yTitle: "Hourly nest attentiveness (minutes)", xTitleY: 1231.5, topBorder: false }
];

const svg = d3.select("#chart");
const defs = svg.append("defs");

panels.forEach((p, pi) => {
  const g = svg.append("g");

  g.append("text")
    .attr("x", 9).attr("y", p.letterY)
    .attr("font-size", 16).attr("font-weight", "bold")
    .text(p.letter);

  const y = d3.scaleLinear().domain(p.yDom).range([p.bottom, p.top]);

  sites.forEach((site, i) => {
    const left = p.lefts[i];
    const x = d3.scaleLinear().domain(p.xDom).range([left, left + p.w]);
    const clipId = `clip-${pi}-${i}`;
    defs.append("clipPath").attr("id", clipId)
      .append("rect")
      .attr("x", left).attr("y", p.top)
      .attr("width", p.w).attr("height", p.bottom - p.top);

    const fg = g.append("g").attr("clip-path", `url(#${clipId})`);

    fg.selectAll("circle")
      .data(p.points[i])
      .enter().append("circle")
      .attr("cx", d => x(d[0]))
      .attr("cy", d => y(d[1]))
      .attr("r", 3.3)
      .attr("fill", "none")
      .attr("stroke", "#b2b2b2")
      .attr("stroke-width", 1);

    const line = d3.line()
      .x(d => x(d[0]))
      .y(d => y(d[1]))
      .curve(d3.curveMonotoneX);

    [p.upper[i], p.lower[i]].forEach(band => {
      fg.append("path")
        .attr("d", line(band))
        .attr("fill", "none")
        .attr("stroke", "#000")
        .attr("stroke-width", 1.1)
        .attr("stroke-dasharray", "3.5,3");
    });

    fg.append("path")
      .attr("d", line(p.fit[i]))
      .attr("fill", "none")
      .attr("stroke", "#000")
      .attr("stroke-width", 2.1);

    // frame
    if (p.topBorder) {
      g.append("rect")
        .attr("x", left).attr("y", p.top)
        .attr("width", p.w).attr("height", p.bottom - p.top)
        .attr("fill", "none").attr("stroke", "#222").attr("stroke-width", 1.4);
    } else {
      g.append("path")
        .attr("d", `M${left},${p.top}V${p.bottom}H${left + p.w}V${p.top}`)
        .attr("fill", "none").attr("stroke", "#222").attr("stroke-width", 1.4);
    }

    // x axis
    const xa = g.append("g")
      .attr("transform", `translate(0,${p.bottom})`)
      .call(d3.axisBottom(x).tickValues(p.xTicks).tickSize(6).tickPadding(8).tickSizeOuter(0));
    xa.select(".domain").remove();
    xa.selectAll(".tick line").attr("stroke", "#333");
    xa.selectAll(".tick text").attr("font-size", 16.6).attr("fill", "#111")
      .attr("font-family", "Liberation Sans, Arial, sans-serif");

    if (i === 0) {
      const ya = g.append("g")
        .attr("transform", `translate(${left},0)`)
        .call(d3.axisLeft(y).tickValues(p.yTicks).tickFormat(p.yFmt).tickSize(6).tickPadding(3).tickSizeOuter(0));
      ya.select(".domain").remove();
      ya.selectAll(".tick line").attr("stroke", "#333");
      ya.selectAll(".tick text").attr("font-size", 16.6).attr("fill", "#111")
        .attr("font-family", "Liberation Sans, Arial, sans-serif");
    }

    // facet title
    g.append("text")
      .attr("x", left + p.w / 2).attr("y", p.top - 6)
      .attr("text-anchor", "middle")
      .attr("font-size", 17.5)
      .text(site);
  });

  g.append("text")
    .attr("transform", `translate(31,${(p.top + p.bottom) / 2}) rotate(-90)`)
    .attr("text-anchor", "middle")
    .attr("font-size", 21.5)
    .text(p.yTitle);

  g.append("text")
    .attr("x", 406).attr("y", p.xTitleY)
    .attr("text-anchor", "middle")
    .attr("font-size", 21.5)
    .text(xTitle);
});
</script>
</body>
</html>
